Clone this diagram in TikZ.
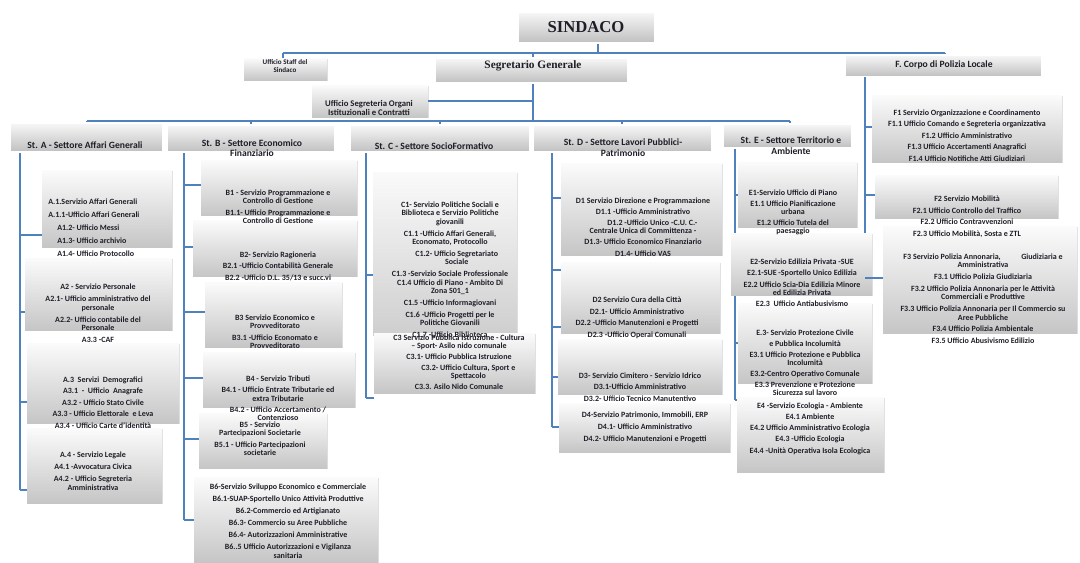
\documentclass[tikz,border=0pt]{standalone}
\usepackage{fontspec}
\setmainfont{Carlito}
\newfontfamily\serifhd{Liberation Serif}
\usetikzlibrary{fit,shadows}
\definecolor{conblue}{RGB}{79,129,189}
\definecolor{txtc}{RGB}{30,30,40}
\newcommand\wrp{\\[-2.4pt]}
\begin{document}
\begin{tikzpicture}[x=0.75pt,y=-0.75pt,
  con/.style={draw=conblue,line width=0.8pt},
  obox/.style={inner sep=0pt,top color=gray!3,bottom color=gray!45,
    drop shadow={shadow xshift=0.8pt,shadow yshift=-0.8pt,opacity=0.25}},
  hdr/.style={inner sep=0pt,draw=white,line width=0.8pt,top color=gray!6,bottom color=gray!50,
    drop shadow={shadow xshift=1pt,shadow yshift=-1pt,opacity=0.35}},
  txt/.style={anchor=north,align=center,inner sep=0pt,text=txtc,font=\fontsize{6}{#1}\selectfont\bfseries},
  txt/.default=8.6,
  htxt/.style={align=center,inner sep=0pt,text=txtc,font=\fontsize{7.2}{#1}\selectfont\bfseries},
  htxt/.default=8.2]
\useasboundingbox (0,0) rectangle (1080,562);

% ---------- connectors (drawn first, boxes on top) ----------
\coordinate (sx) at (598,53);
\coordinate (bl) at (283,53);
\coordinate (br) at (945,53);
\coordinate (sg) at (533,53);
\coordinate (sb) at (533,121);
\coordinate (ba) at (87,121);
\coordinate (bb) at (251,121);
\coordinate (bc) at (440,121);
\coordinate (bd) at (622,121);
\coordinate (be) at (790,121);

% nodes for boxes (geometry) defined first so connectors can refer to them
\begin{scope}[on background layer/.style={}]
\end{scope}

\path
 node[hdr,fit={(518,12)(655,43)}] (sind) {}
 node[obox,fit={(244,58)(327,80)}] (staff) {}
 node[hdr,fit={(435,58)(628,83)}] (seg) {}
 node[obox,fit={(312,85)(428,117)}] (uso) {}
 node[hdr,fit={(845,55)(1042,77)}] (F) {};

\draw[con] (sx) -- (sx |- sind.south);
\draw[con] (bl) -- (br);
\draw[con] (bl) -- (bl |- staff.north);
\draw[con] (br) -- (br |- F.north);
\draw[con] (sg) -- (sg |- seg.north);
\draw[con] (sb |- seg.south) -- (sb);
\draw[con] (uso.east) -- (uso.east -| sb);
\draw[con] (ba) -- (be);

% column lines
\coordinate (a0) at (20,152);  \coordinate (a9) at (20,490);
\coordinate (b0) at (184,152); \coordinate (b9) at (184,520);
\coordinate (c0) at (366,152); \coordinate (c9) at (366,398);
\coordinate (d0) at (552,152); \coordinate (d9) at (552,427);
\coordinate (e0) at (735,148); \coordinate (e9) at (735,400);
\coordinate (f0) at (865,77);  \coordinate (f9) at (865,278);
\draw[con] (a0) -- (a9);
\draw[con] (b0) -- (b9);
\draw[con] (c0) -- (c9);
\draw[con] (d0) -- (d9);
\draw[con] (e0) -- (e9);
\draw[con] (f0) -- (f9);

% ---------- headers ----------
\path
 node[hdr,fit={(10,123)(163,152)}] (hA) {}
 node[hdr,fit={(167,125)(335,152)}] (hB) {}
 node[hdr,fit={(350,125)(530,152)}] (hC) {}
 node[hdr,fit={(533,125)(712,152)}] (hD) {}
 node[hdr,fit={(723,124)(852,148)}] (hE) {};
\draw[con] (ba) -- (ba |- hA.north);
\draw[con] (bb) -- (bb |- hB.north);
\draw[con] (bc) -- (bc |- hC.north);
\draw[con] (bd) -- (bd |- hD.north);
\draw[con] (be) -- (be |- hE.north);

% ---------- ticks ----------
\foreach \n/\x/\y in {A1/20/235,A2/20/312,A3/20/402,A4/20/490,
  B1/184/185,B2/184/247,B3/184/312,B4/184/378,B5/184/439,B6/184/520,
  C1/366/275,C3/366/398,
  D1/552/198,D2/552/270,D3/552/377,D4/552/427,
  E1/735/195,E3/735/343,E4/735/400,
  F1/865/127,F2/865/195,F3/865/278}{
  \coordinate (t\n) at (\x,\y);
}
\coordinate (tD2b) at (552,327);

% ---------- boxes ----------
\path
 node[obox,fit={(42,170)(172,247)}] (A1) {}
 node[obox,fit={(25,258)(172,330)}] (A2) {}
 node[obox,fit={(27,343)(179,423)}] (A3) {}
 node[obox,fit={(27,428)(162,503)}] (A4) {}
 node[obox,fit={(201,160)(357,215)}] (B1) {}
 node[obox,fit={(193,220)(357,276)}] (B2) {}
 node[obox,fit={(205,282)(342,347)}] (B3) {}
 node[obox,fit={(203,352)(355,407)}] (B4) {}
 node[obox,fit={(199,413)(327,468)}] (B5) {}
 node[obox,fit={(194,477)(378,562)}] (B6) {}
 node[obox,top color=gray!4,middle color=gray!30,bottom color=gray!38,fit={(373,172)(517,335)}] (C1) {}
 node[obox,fit={(374,333)(535,393)}] (C3) {}
 node[obox,fit={(561,163)(722,255)}] (D1) {}
 node[obox,fit={(561,262)(720,333)}] (D2) {}
 node[obox,fit={(558,339)(722,394)}] (D3) {}
 node[obox,fit={(559,403)(730,452)}] (D4) {}
 node[obox,fit={(738,162)(857,227)}] (E1) {}
 node[obox,fit={(731,233)(872,295)}] (E2) {}
 node[obox,fit={(738,303)(872,383)}] (E3) {}
 node[obox,fit={(737,397)(884,472)}] (E4) {}
 node[obox,fit={(872,95)(1062,162)}] (F1) {}
 node[obox,fit={(875,175)(1058,218)}] (F2) {}
 node[obox,fit={(883,226)(1077,333)}] (F3) {};

\foreach \n in {A1,A2,A3,A4,B1,B2,B3,B4,B5,B6,C1,C3,D1,D2,D3,D4,E1,E3,E4,F1,F2,F3}{
  \draw[con] (t\n) -- (t\n -| \n.west);
}
\draw[con] (tD2b) -- (tD2b -| D2.west);

% ---------- texts ----------
\node[inner sep=0pt,text=txtc,font=\serifhd\fontsize{12.5}{14}\selectfont\bfseries] (sindt) at (586,27) {SINDACO};
\node[inner sep=0pt,text=txtc,font=\serifhd\fontsize{8.5}{10}\selectfont\bfseries] (segt) at (533,66) {Segretario Generale};
\node[inner sep=0pt,align=center,text=txtc,font=\fontsize{5.3}{6}\selectfont\bfseries] (stafft) at (285,66) {Ufficio Staff del\\Sindaco};
\node[inner sep=0pt,align=center,text=txtc,font=\fontsize{6.5}{6.2}\selectfont\bfseries] (usot) at (369,108) {Ufficio Segreteria Organi\\Istituzionali e Contratti};
\node[htxt] (Ft) at (944,65) {F. Corpo di Polizia Locale};

\node[htxt] (hAt) at (85,145) {St. A - Settore Affari Generali};
\node[htxt=7.5] (hBt) at (252,148) {St. B - Settore Economico\\Finanziario};
\node[htxt] (hCt) at (434,146) {St. C - Settore SocioFormativo};
\node[htxt] (hDt) at (623,147.5) {St. D - Settore Lavori Pubblici-\\Patrimonio};
\node[htxt] (hEt) at (791,145.5) {St. E - Settore Territorio e\\Ambiente};

\node[txt=9.7,anchor=north west,align=left] (A1t) at (48,198.4) {A.1.Servizio Affari Generali\\A.1.1-Ufficio Affari Generali\\\hspace*{6.75pt}A1.2- Ufficio Messi\\\hspace*{6.75pt}A1.3- Ufficio archivio\\\hspace*{6.75pt}A1.4- Ufficio Protocollo};
\node[txt=9] (A2t) at (98,283.4) {A2 - Servizio Personale\\A2.1- Ufficio amministrativo del\wrp personale\\A2.2- Ufficio contabile del\wrp Personale\\A3.3 -CAF};
\node[txt=8.6] (A3t) at (103,376.4) {A.3\ \ Servizi\ \ Demografici\\A3.1\ \ -\ \ Ufficio\ \ Anagrafe\\A3.2 - Ufficio Stato Civile\\A3.3 - Ufficio Elettorale\ \ e Leva\\A3.4 - Ufficio Carte d'identità};
\node[txt=9] (A4t) at (93,451.4) {A.4 - Servizio Legale\\A4.1 -Avvocatura Civica\\A4.2 - Ufficio Segreteria\wrp Amministrativa};

\node[txt] (B1t) at (278,189.4) {B1 - Servizio Programmazione e\wrp Controllo di Gestione\\B1.1- Ufficio Programmazione e\wrp Controllo di Gestione};
\node[txt] (B2t) at (278,251.4) {B2- Servizio Ragioneria\\B2.1 -Ufficio Contabilità Generale\\B2.2 -Ufficio D.L. 35/13 e succ.vi};
\node[txt] (B3t) at (275,314.4) {B3 Servizio Economico e\wrp Provveditorato\\B3.1 -Ufficio Economato e\wrp Provveditorato};
\node[txt] (B4t) at (278,375.4) {B4 - Servizio Tributi\\B4.1 - Ufficio Entrate Tributarie ed\wrp extra Tributarie\\B4.2 - Ufficio Accertamento /\wrp Contenzioso};
\node[txt] (B5t) at (260,421.4) {B5 - Servizio\wrp Partecipazioni Societarie\\B5.1 - Ufficio Partecipazioni\wrp societarie};
\node[txt=9] (B6t) at (288,483.4) {B6-Servizio Sviluppo Economico e Commerciale\\B6.1-SUAP-Sportello Unico Attività Produttive\\B6.2-Commercio ed Artigianato\\B6.3- Commercio su Aree Pubbliche\\B6.4- Autorizzazioni Amministrative\\B6..5 Ufficio Autorizzazioni e Vigilanza\wrp sanitaria};

\node[txt=8.8] (C1t) at (450,201.4) {C1- Servizio Politiche Sociali e\wrp Biblioteca e Servizio Politiche\wrp giovanili\\C1.1 -Ufficio Affari Generali,\wrp Economato, Protocollo\\\hspace*{10pt}C1.2- Ufficio Segretariato\wrp \hspace*{10pt}Sociale\\C1.3 -Servizio Sociale Professionale\wrp C1.4 Ufficio di Piano - Ambito Di\wrp Zona S01\_1\\C1.5 -Ufficio Informagiovani\\C1.6 -Ufficio Progetti per le\wrp Politiche Giovanili\\C1.7 -Ufficio Biblioteca};
\node[txt=8.3] (C3t) at (459,334.4) {C3 Servizio Pubblica Istruzione - Cultura\wrp – Sport- Asilo nido comunale\\C3.1- Ufficio Pubblica Istruzione\\\hspace*{14pt}C3.2- Ufficio Cultura, Sport e\wrp \hspace*{14pt}Spettacolo\\C3.3. Asilo Nido Comunale};

\node[txt=8.4] (D1t) at (643,197.4) {D1 Servizio Direzione e Programmazione\\D1.1 -Ufficio Amministrativo\\\hspace*{14pt}D1.2 -Ufficio Unico -C.U. C.-\wrp Centrale Unica di Committenza -\\D1.3- Ufficio Economico Finanziario\\D1.4- Ufficio VAS};
\node[txt=8.8] (D2t) at (637,296.4) {D2 Servizio Cura della Città\\D2.1- Ufficio Amministrativo\\D2.2 -Ufficio Manutenzioni e Progetti\\D2.3 -Ufficio Operai Comunali};
\node[txt] (D3t) at (640,372.4) {D3- Servizio Cimitero - Servizio Idrico\\D3.1-Ufficio Amministrativo\\D3.2- Ufficio Tecnico Manutentivo};
\node[txt=9] (D4t) at (645,411.4) {D4-Servizio Patrimonio, Immobili, ERP\\D4.1- Ufficio Amministrativo\\D4.2- Ufficio Manutenzioni e Progetti};

\node[txt=8.3] (E1t) at (793,189.4) {E1-Servizio Ufficio di Piano\\E1.1 Ufficio Pianificazione\wrp urbana\\E1.2 Ufficio Tutela del\wrp paesaggio};
\node[txt] (E2t) at (802,258.4) {E2-Servizio Edilizia Privata -SUE\\E2.1-SUE -Sportello Unico Edilizia\\E2.2 Ufficio Scia-Dia Edilizia Minore\wrp ed Edilizia Privata\\E2.3\ \ Ufficio Antiabusivismo};
\node[txt=8.3] (E3t) at (805,329.4) {E.3- Servizio Protezione Civile\\e Pubblica Incolumità\\E3.1 Ufficio Protezione e Pubblica\wrp Incolumità\\E3.2-Centro Operativo Comunale\\E3.3 Prevenzione e Protezione\wrp Sicurezza sul lavoro};
\node[txt=8.4] (E4t) at (810,402.4) {E4 -Servizio Ecologia - Ambiente\\E4.1 Ambiente\\E4.2 Ufficio Amministrativo Ecologia\\E4.3 -Ufficio Ecologia\\E4.4 -Unità Operativa Isola Ecologica};

\node[txt] (F1t) at (967,109.4) {F1 Servizio Organizzazione e Coordinamento\\F1.1 Ufficio Comando e Segreteria organizzativa\\F1.2 Ufficio Amministrativo\\F1.3 Ufficio Accertamenti Anagrafici\\F1.4 Ufficio Notifiche Atti Giudiziari};
\node[txt=8.8] (F2t) at (967,195.4) {F2 Servizio Mobilità\\F2.1 Ufficio Controllo del Traffico\\F2.2 Ufficio Contravvenzioni\\F2.3 Ufficio Mobilità, Sosta e ZTL};
\node[txt=8.8] (F3t) at (983,253.4) {F3 Servizio Polizia Annonaria,\hspace{14pt} Giudiziaria e\wrp Amministrativa\\F3.1 Ufficio Polizia Giudiziaria\\F3.2 Ufficio Polizia Annonaria per le Attività\wrp Commerciali e Produttive\\F3.3 Ufficio Polizia Annonaria per Il Commercio su\wrp Aree Pubbliche\\F3.4 Ufficio Polizia Ambientale\\F3.5 Ufficio Abusivismo Edilizio};
\end{tikzpicture}
\end{document}
